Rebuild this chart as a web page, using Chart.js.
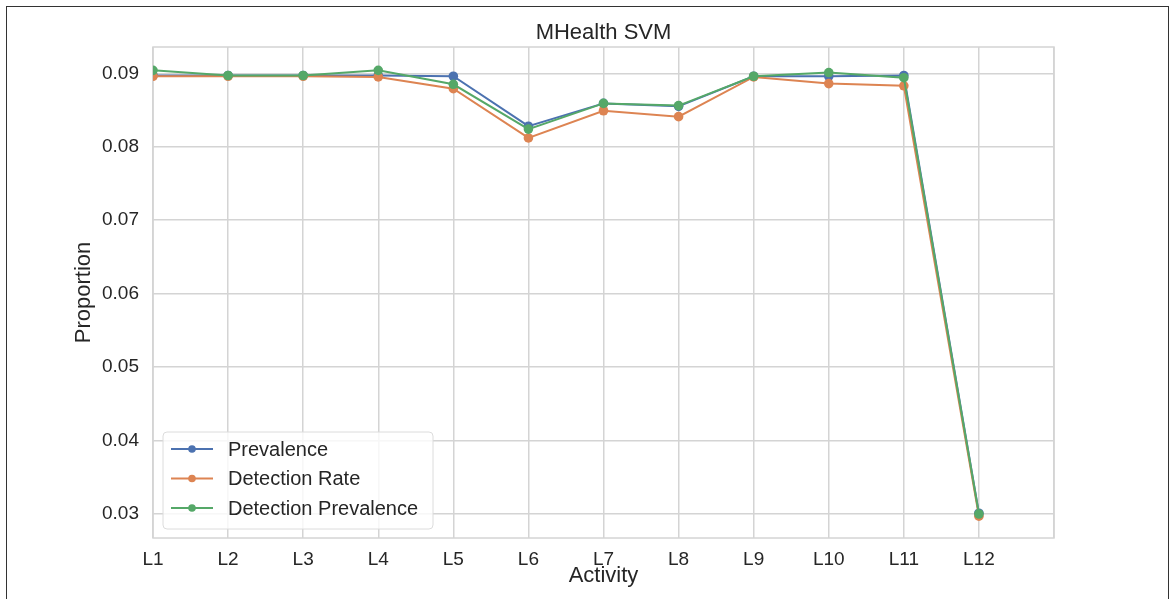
<!DOCTYPE html>
<html>
<head>
<meta charset="utf-8">
<title>MHealth SVM</title>
<script src="https://cdn.jsdelivr.net/npm/chart.js@4/dist/chart.umd.min.js"></script>
<style>
  html, body { margin: 0; padding: 0; background: #fff; overflow: hidden; }
  #frame { position: absolute; left: 6px; top: 6px; width: 1161px; height: 700px; border: 1px solid #333; }
  #wrap { position: absolute; left: 0; top: 0; width: 1173px; height: 599px; }
</style>
</head>
<body>
<div id="frame"></div>
<div id="wrap"><canvas id="chart" width="1173" height="599"></canvas></div>
<script>
// activities along the x axis
const activities = ["L1", "L2", "L3", "L4", "L5", "L6", "L7", "L8", "L9", "L10", "L11", "L12"];
const yTicks = [0.03, 0.04, 0.05, 0.06, 0.07, 0.08, 0.09];

const prevalence = [0.0897, 0.0897, 0.0897, 0.0897, 0.0896, 0.0828, 0.0859, 0.0855, 0.0896, 0.0896, 0.0897, 0.0301];
const detectionRate = [0.0896, 0.0896, 0.0896, 0.0895, 0.0879, 0.0812, 0.0849, 0.0841, 0.0895, 0.0886, 0.0883, 0.0297];
const detectionPrevalence = [0.0904, 0.0897, 0.0897, 0.0904, 0.0885, 0.0824, 0.0859, 0.0856, 0.0896, 0.0901, 0.0894, 0.0300];

const textColor = "#262626";
const gridColor = "#d4d4d4";
const fontFamily = "'Liberation Sans', Arial, sans-serif";

function toPoints(values) {
  return values.map((v, i) => ({ x: i, y: v }));
}

function makeSeries(label, values, color, order) {
  return {
    label: label,
    data: toPoints(values),
    borderColor: color,
    backgroundColor: color,
    borderWidth: 2,
    pointRadius: 4.8,
    pointHoverRadius: 4.8,
    pointBorderWidth: 0,
    tension: 0,
    order: order,
  };
}

// frame around plot + legend box in the lower left corner
const plotFrame = {
  id: "plotFrame",
  beforeDatasetsDraw(chart) {
    const { ctx, chartArea } = chart;
    ctx.save();
    ctx.strokeStyle = gridColor;
    ctx.lineWidth = 1.5;
    ctx.strokeRect(chartArea.left, chartArea.top, chartArea.right - chartArea.left, chartArea.bottom - chartArea.top);
    ctx.restore();
  },
  afterDatasetsDraw(chart) {
    const { ctx } = chart;
    const x = 163, y = 432, w = 270, h = 97, r = 4;
    ctx.save();
    ctx.beginPath();
    ctx.roundRect(x, y, w, h, r);
    ctx.fillStyle = "rgba(255,255,255,0.8)";
    ctx.fill();
    ctx.strokeStyle = "#dcdcdc";
    ctx.lineWidth = 1;
    ctx.stroke();
    ctx.font = "20px " + fontFamily;
    ctx.textBaseline = "middle";
    chart.data.datasets.forEach((ds, i) => {
      const cy = 449 + i * 29.5;
      ctx.strokeStyle = ds.borderColor;
      ctx.lineWidth = 2;
      ctx.beginPath();
      ctx.moveTo(171, cy);
      ctx.lineTo(213, cy);
      ctx.stroke();
      ctx.fillStyle = ds.borderColor;
      ctx.beginPath();
      ctx.arc(192, cy, 3.8, 0, Math.PI * 2);
      ctx.fill();
      ctx.fillStyle = textColor;
      ctx.fillText(ds.label, 228, cy + 1);
    });
    ctx.restore();
  },
};

new Chart(document.getElementById("chart"), {
  type: "line",
  data: {
    datasets: [
      makeSeries("Prevalence", prevalence, "#4c72b0", 3),
      makeSeries("Detection Rate", detectionRate, "#dd8452", 2),
      makeSeries("Detection Prevalence", detectionPrevalence, "#55a868", 1),
    ],
  },
  options: {
    responsive: false,
    animation: false,
    layout: { padding: { left: 0, right: 119, top: 0, bottom: 0 } },
    plugins: {
      legend: { display: false },
      tooltip: { enabled: false },
      title: {
        display: true,
        fullSize: false,
        text: "MHealth SVM",
        color: textColor,
        font: { family: fontFamily, size: 22, weight: "normal" },
        padding: { top: 20, bottom: 0.6 },
      },
    },
    scales: {
      x: {
        type: "linear",
        min: 0,
        max: 12,
        afterFit: (scale) => { scale.height = 61; },
        afterBuildTicks: (scale) => {
          scale.ticks = activities.concat([""]).map((_, i) => ({ value: i }));
        },
        ticks: {
          color: textColor,
          font: { family: fontFamily, size: 19 },
          padding: 10,
          autoSkip: false,
          maxRotation: 0,
          callback: (v) => activities[v] || "",
        },
        grid: { color: gridColor, lineWidth: 1.5, drawTicks: false },
        border: { display: false },
        title: {
          display: true,
          text: "Activity",
          color: textColor,
          font: { family: fontFamily, size: 22 },
          padding: { top: 0, bottom: 10 },
        },
      },
      y: {
        min: 0.02673,
        max: 0.09358,
        afterFit: (scale) => { scale.width = 153; },
        afterBuildTicks: (scale) => {
          scale.ticks = yTicks.map((v) => ({ value: v }));
        },
        ticks: {
          color: textColor,
          font: { family: fontFamily, size: 19 },
          padding: 14,
          callback: (v) => v.toFixed(2),
        },
        grid: { color: gridColor, lineWidth: 1.5, drawTicks: false },
        border: { display: false },
        title: {
          display: true,
          text: "Proportion",
          color: textColor,
          font: { family: fontFamily, size: 22 },
          padding: { top: 71, bottom: 0 },
        },
      },
    },
  },
  plugins: [plotFrame],
});
</script>
</body>
</html>
